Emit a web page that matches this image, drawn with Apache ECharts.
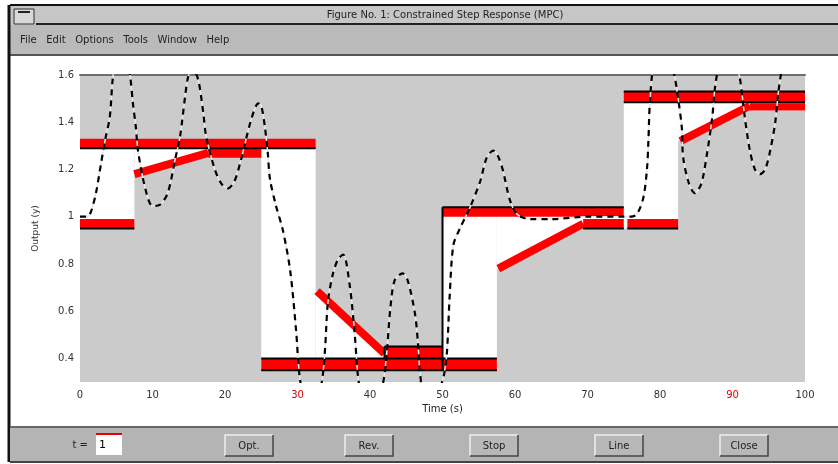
<!DOCTYPE html>
<html><head><meta charset="utf-8">
<script src="https://cdn.jsdelivr.net/npm/echarts@6/dist/echarts.min.js"></script>
<style>html,body{margin:0;padding:0;background:#fff}#c{width:838px;height:464px}</style>
</head><body><div id="c"></div>
<script>
// ---- data (time in s, output) ----
const responseCurve = [
 [0,1.0],[1,1.0],[1.5,1.02],[2.2,1.1],[2.9,1.225],[3.5,1.33],[4.1,1.42],[4.5,1.58],[5,1.7],[5.6,1.75],[6.3,1.7],[6.9,1.6],
 [7.3,1.48],[7.7,1.38],[8.0,1.28],[9,1.12],[10,1.045],[11,1.05],[12.1,1.10],[13.1,1.24],[13.8,1.34],[14.5,1.51],[14.9,1.59],
 [15.5,1.63],[16.3,1.58],[17,1.44],[17.4,1.34],[18.6,1.2],[19.5,1.14],[20.4,1.12],[21.3,1.15],[22.2,1.24],[23.6,1.41],
 [24.6,1.48],[25.0,1.47],[25.5,1.38],[25.9,1.27],[26.2,1.16],[27,1.05],[28,0.94],[29,0.77],[29.8,0.52],[30.4,0.3],
 [31.5,0.2],[32.5,0.2],[33.4,0.31],[33.8,0.44],[34.2,0.64],[34.9,0.76],[35.6,0.82],[36.3,0.84],[37.2,0.71],
 [37.9,0.50],[38.4,0.31],[39.2,0.2],[40.5,0.18],[41.7,0.28],[42.3,0.42],[42.8,0.61],[43.4,0.73],[44.5,0.76],[45.2,0.73],
 [46.2,0.59],[46.6,0.47],[46.9,0.34],[47.5,0.22],[48.5,0.2],[49.5,0.26],[50.2,0.33],[50.6,0.42],[51,0.67],[51.5,0.88],
 [52.4,0.95],[53.8,1.04],[55.2,1.15],[56.1,1.25],[57,1.28],[57.6,1.26],[58.3,1.2],[59.3,1.07],[60.3,1.01],[62,0.99],
 [65,0.99],[70,1.0],[75,1.0],[76,1.0],[76.8,1.01],[77.7,1.08],[78.2,1.2],[78.4,1.32],[78.6,1.48],[79.2,1.65],[80.5,1.7],
 [81.8,1.62],[82.5,1.5],[83,1.38],[83.2,1.25],[84,1.14],[84.8,1.10],[85.7,1.14],[86.5,1.27],[87.2,1.42],[87.6,1.55],
 [88.3,1.65],[89.5,1.68],[90.5,1.63],[91,1.59],[91.7,1.42],[92.4,1.28],[93.1,1.2],[93.8,1.18],[94.5,1.2],[95.2,1.28],
 [95.9,1.40],[96.3,1.52],[96.8,1.62],[97.5,1.68],[98.5,1.7],[100,1.75]
];
// allowed region: [t0, t1, lower0, lower1, upper0, upper1]
const tubeRegions = [
 [0,7.5,0.95,0.95,1.29,1.29],
 [7.5,17.7,1.18,1.27,1.29,1.29],
 [17.7,25,1.27,1.27,1.29,1.29],
 [25,32.5,0.35,0.35,1.29,1.29],
 [32.5,42,0.35,0.35,0.69,0.42],
 [42,50,0.35,0.35,0.45,0.45],
 [50,57.5,0.35,0.35,1.04,1.04],
 [57.5,69.4,0.78,0.97,1.04,1.04],
 [69.4,75,0.97,0.97,1.04,1.04],
 [75,82.5,0.95,0.95,1.53,1.53],
 [82.5,92.4,1.32,1.47,1.53,1.53],
 [92.4,100,1.45,1.45,1.53,1.53]
];
// constraint bands: [t0, t1, yLow, yHigh]
const redBands = [
 [0,32.5,1.29,1.33],
 [0,7.5,0.95,0.99],
 [17.7,25,1.25,1.29],
 [25,57.5,0.35,0.40],
 [42,50,0.40,0.45],
 [50,75,1.00,1.04],
 [69.4,75,0.95,0.99],
 [75.5,82.5,0.95,0.99],
 [75,100,1.485,1.53],
 [92.4,100,1.45,1.48]
];
// ramps: [t0, y0, t1, y1]
const redRamps = [
 [7.5,1.18,17.7,1.27],
 [32.7,0.685,42,0.42],
 [57.7,0.78,69.4,0.97],
 [82.8,1.32,92.4,1.47]
];
// bound edges: [t0, y0, t1, y1]
const blackEdges = [
 [0,1.29,32.5,1.29],
 [0,0.95,7.5,0.95],
 [25,0.35,57.5,0.35],
 [25,0.40,57.5,0.40],
 [42,0.45,50,0.45],
 [42,0.40,42,0.45],
 [50,0.35,50,1.04],
 [50,1.04,75,1.04],
 [69.4,0.95,75,0.95],
 [75.5,0.95,82.5,0.95],
 [75,1.53,100,1.53],
 [75,1.485,100,1.485]
];
const xTickValues = [0,10,20,30,40,50,60,70,80,90,100];
const redXLabels = [30, 90];
const yLabelValues = [0.4,0.6,0.8,1,1.2,1.4,1.6];

const windowTitle = 'Figure No. 1: Constrained Step Response (MPC)';
const menuText = 'File   Edit   Options   Tools   Window   Help';
const buttonLabels = ['Opt.', 'Rev.', 'Stop', 'Line', 'Close'];
const buttonX = [225, 345, 470, 595, 720];

const chart = echarts.init(document.getElementById('c'), null, {renderer:'canvas'});

const chrome = [
  {type:'rect', shape:{x:10,y:5,width:828,height:20}, style:{fill:'#c6c6c6'}, silent:true},
  {type:'rect', shape:{x:10,y:25,width:828,height:30}, style:{fill:'#bababa'}, silent:true},
  {type:'line', shape:{x1:10,y1:5,x2:838,y2:5}, style:{stroke:'#111',lineWidth:2}},
  {type:'line', shape:{x1:36,y1:24,x2:838,y2:24}, style:{stroke:'#222',lineWidth:2}},
  {type:'line', shape:{x1:10,y1:55,x2:838,y2:55}, style:{stroke:'#555',lineWidth:2}},
  {type:'line', shape:{x1:9,y1:5,x2:9,y2:462}, style:{stroke:'#111',lineWidth:3}},
  {type:'rect', shape:{x:14,y:9,width:20,height:15}, style:{fill:'#d8d8d8',stroke:'#333',lineWidth:1}},
  {type:'line', shape:{x1:18,y1:12,x2:30,y2:12}, style:{stroke:'#222',lineWidth:2}},
  {type:'text', style:{x:445,y:15,text:windowTitle,fill:'#222',font:'10px "DejaVu Sans"',align:'center',verticalAlign:'middle'}},
  {type:'text', style:{x:20,y:40,text:menuText,fill:'#222',font:'10px "DejaVu Sans"',verticalAlign:'middle'}},
  {type:'rect', shape:{x:10,y:427,width:828,height:35}, style:{fill:'#b4b4b4'}, silent:true},
  {type:'line', shape:{x1:10,y1:427,x2:838,y2:427}, style:{stroke:'#666',lineWidth:2}},
  {type:'line', shape:{x1:10,y1:462,x2:838,y2:462}, style:{stroke:'#444',lineWidth:2}},
  {type:'text', style:{x:88,y:445,text:'t =',fill:'#222',font:'10px "DejaVu Sans"',align:'right',verticalAlign:'middle'}},
  {type:'rect', shape:{x:96,y:434,width:26,height:21}, style:{fill:'#fff'}},
  {type:'line', shape:{x1:96,y1:434,x2:122,y2:434}, style:{stroke:'#e00',lineWidth:2}},
  {type:'text', style:{x:99,y:445,text:'1',fill:'#000',font:'11px "DejaVu Sans"',verticalAlign:'middle'}}
];
buttonLabels.forEach((lab,i)=>{
  const x = buttonX[i];
  chrome.push({type:'rect', shape:{x:x,y:435,width:48,height:21}, style:{fill:'#b8b8b8'}});
  chrome.push({type:'polyline', shape:{points:[[x,456],[x,435],[x+48,435]]}, style:{stroke:'#eee',lineWidth:1.5,fill:null}});
  chrome.push({type:'polyline', shape:{points:[[x+48,435],[x+48,456],[x,456]]}, style:{stroke:'#444',lineWidth:1.5,fill:null}});
  chrome.push({type:'text', style:{x:x+24,y:446,text:lab,fill:'#222',font:'10px "DejaVu Sans"',align:'center',verticalAlign:'middle'}});
});

const option = {
  animation:false,
  backgroundColor:'#ffffff',
  textStyle:{fontFamily:'DejaVu Sans'},
  graphic: chrome,
  grid:{left:80,right:33,top:75,bottom:82,show:true,backgroundColor:'#cbcbcb',borderWidth:0},
  xAxis:[{
    type:'value',min:0,max:100,interval:10,
    name:'Time (s)',nameLocation:'middle',nameGap:20,
    nameTextStyle:{color:'#222',fontSize:10},
    axisLine:{show:false},axisTick:{show:false},splitLine:{show:false},
    axisLabel:{fontSize:10,margin:8,
      color:(v)=> redXLabels.indexOf(Math.round(+v))>=0 ? '#e00000' : '#333'}
  },{
    type:'value',min:0,max:100,position:'top',
    axisLine:{show:true,onZero:false,lineStyle:{color:'#6e6e6e',width:2}},
    axisTick:{show:false},axisLabel:{show:false},splitLine:{show:false}
  }],
  yAxis:{
    type:'value',min:0.3,max:1.6,interval:0.1,
    name:'Output (y)',nameLocation:'middle',nameGap:40,nameRotate:90,
    nameTextStyle:{color:'#333',fontSize:9},
    axisLine:{show:false},axisTick:{show:false},splitLine:{show:false},
    axisLabel:{fontSize:10,color:'#333',margin:6,
      formatter:(v)=>{const r=Math.round(v*10)/10; return yLabelValues.some(q=>Math.abs(q-r)<1e-6)? String(r):'';}}
  },
  series:[
    {type:'custom',name:'tube',data:tubeRegions,encode:{x:[0,1],y:[2,3,4,5]},z:1,silent:true,
      renderItem:(p,api)=>({type:'polygon',shape:{points:[
        api.coord([api.value(0),api.value(2)]),api.coord([api.value(1),api.value(3)]),
        api.coord([api.value(1),api.value(5)]),api.coord([api.value(0),api.value(4)])]},
        style:{fill:'#ffffff'}})},
    {type:'custom',name:'bands',data:redBands,encode:{x:[0,1],y:[2,3]},z:2,silent:true,
      renderItem:(p,api)=>{const a=api.coord([api.value(0),api.value(3)]),b=api.coord([api.value(1),api.value(2)]);
        return {type:'rect',shape:{x:a[0],y:a[1],width:b[0]-a[0],height:b[1]-a[1]},style:{fill:'#ff0000'}};}},
    {type:'custom',name:'ramps',data:redRamps,encode:{x:[0,2],y:[1,3]},z:3,silent:true,
      renderItem:(p,api)=>{const a=api.coord([api.value(0),api.value(1)]),b=api.coord([api.value(2),api.value(3)]);
        return {type:'line',shape:{x1:a[0],y1:a[1],x2:b[0],y2:b[1]},style:{stroke:'#ff0000',lineWidth:8}};}},
    {type:'custom',name:'edges',data:blackEdges,encode:{x:[0,2],y:[1,3]},z:4,silent:true,
      renderItem:(p,api)=>{const a=api.coord([api.value(0),api.value(1)]),b=api.coord([api.value(2),api.value(3)]);
        return {type:'line',shape:{x1:a[0],y1:a[1],x2:b[0],y2:b[1]},style:{stroke:'#000',lineWidth:2}};}},
    {type:'line',name:'trace',data:responseCurve,showSymbol:false,smooth:0.3,clip:true,z:5,
      lineStyle:{color:'#e8e8e8',width:1.5}},
    {type:'line',name:'response',data:responseCurve,showSymbol:false,smooth:0.3,clip:true,z:6,
      lineStyle:{color:'#000',width:2.2,type:[6,5]}}
  ]
};
chart.setOption(option);
</script>
</body></html>
